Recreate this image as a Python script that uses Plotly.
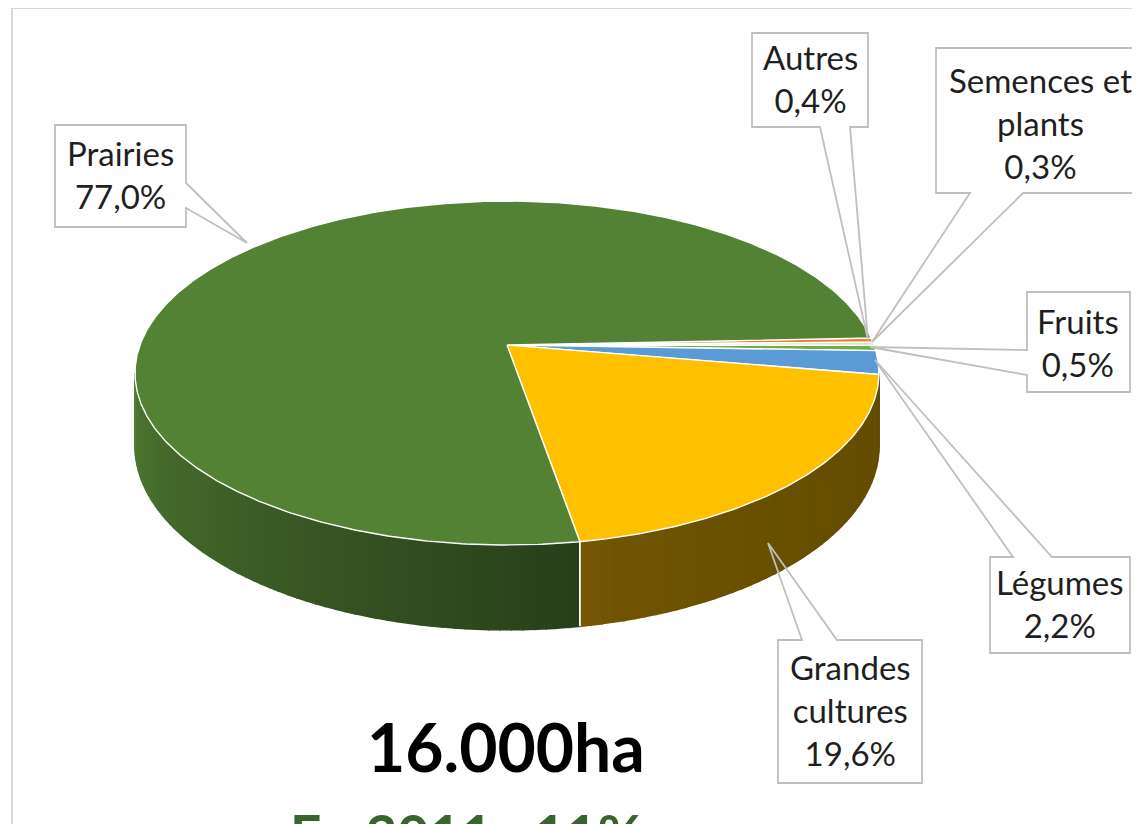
import numpy as np
import plotly.graph_objects as go

# ---------------- data (clockwise order, starting just above 3 o'clock) -------------
categories = ["Autres", "Semences et plants", "Fruits", "Légumes", "Grandes cultures", "Prairies"]
values = [0.4, 0.3, 0.5, 2.2, 19.6, 77.0]
label_names = ["Autres", "Semences et<br>plants", "Fruits", "Légumes", "Grandes<br>cultures", "Prairies"]
total_text = "16.000ha"
sub_text = "En 2011 : 11%"

# ---------------- style ----------------
top_colors = ["#ED7D31", "#C5E0B4", "#70AD47", "#5B9BD5", "#FFC000", "#548235"]
side_grad = {
    "Légumes": ((46, 90, 138), (46, 90, 138)),
    "Grandes cultures": ((122, 90, 4), (98, 76, 0)),
    "Prairies": ((78, 120, 50), (40, 63, 26)),
}
FONT = "Lato"
PAGE_OFF = 8                 # default body margin of the html page
W, H = 1140 - PAGE_OFF, 824 - PAGE_OFF

# 3D pie projection parameters (pixel space of the final picture)
CX, CY = 507, 345      # pie centre on screen
A, B, K, D = 367, 167.4, 0.163, 71
START = 87.6           # angle (deg, clockwise from back) where first slice starts
VIS0, VIS1 = 99.4, 260.6  # visible range of the side wall


def proj(phi, depth=0.0):
    u = np.sin(np.radians(phi))
    v = np.cos(np.radians(phi))
    s = 1.0 / (1.0 + K * v)
    return CX + A * u * s, CY - B * v * s + depth * D * s


fig = go.Figure()

# slice angle bounds from data
tot = sum(values)
bounds = []
a = START
for val in values:
    span = 360.0 * val / tot
    bounds.append((a, a + span))
    a += span

# ---------------- side walls ----------------
for name, (a0, a1) in zip(categories, bounds):
    if name not in side_grad:
        continue
    for off in (0, -360):
        s0, s1 = max(a0 + off, VIS0), min(a1 + off, VIS1)
        if s1 <= s0:
            continue
        c_left, c_right = side_grad[name]
        ph = np.linspace(s0, s1, 80)
        xt, yt = proj(ph)
        xb, yb = proj(ph[::-1], 1.0)
        base = "rgb(%d,%d,%d)" % tuple((c_left[j] + c_right[j]) // 2 for j in range(3))
        fig.add_trace(go.Scatter(x=np.concatenate([xt, xb, xt[:1]]),
                                 y=np.concatenate([yt, yb, yt[:1]]),
                                 mode="lines", fill="toself", fillcolor=base,
                                 line=dict(color=base, width=0),
                                 hoverinfo="skip", showlegend=False))
        n = max(2, int((s1 - s0) / 1.5) + 1)
        edges = np.linspace(s0, s1, n)
        for i in range(n - 1):
            p0, p1 = edges[i], edges[i + 1]
            t = (s1 - 0.5 * (p0 + p1)) / (s1 - s0)
            if name == "Grandes cultures":
                t = t ** 0.35
            col = tuple(int(round(c_left[j] + (c_right[j] - c_left[j]) * t)) for j in range(3))
            col = "rgb(%d,%d,%d)" % col
            ph = np.linspace(p0, p1, 3)
            xt, yt = proj(ph)
            xb, yb = proj(ph[::-1], 1.0)
            fig.add_trace(go.Scatter(x=np.concatenate([xt, xb, xt[:1]]),
                                     y=np.concatenate([yt, yb, yt[:1]]),
                                     mode="lines", fill="toself",
                                     fillcolor=col, line=dict(color=col, width=1.6),
                                     hoverinfo="skip", showlegend=False))

# seam between Prairies and Grandes cultures side walls
seam = bounds[categories.index("Grandes cultures")][1]
xs0, ys0 = proj(seam)
xs1, ys1 = proj(seam, 1.0)
fig.add_trace(go.Scatter(x=[xs0, xs1], y=[ys0, ys1], mode="lines",
                         line=dict(color="white", width=1.8),
                         hoverinfo="skip", showlegend=False))

# ---------------- top faces ----------------
for name, (a0, a1), col in zip(categories, bounds, top_colors):
    n = max(4, int((a1 - a0) / 0.5) + 2)
    ph = np.linspace(a0, a1, n)
    xa, ya = proj(ph)
    xs = np.concatenate([[CX], xa, [CX]])
    ys = np.concatenate([[CY], ya, [CY]])
    fig.add_trace(go.Scatter(x=xs, y=ys, mode="lines", fill="toself",
                             fillcolor=col, line=dict(color="white", width=1.4),
                             hoverinfo="skip", showlegend=False, name=name))

# ---------------- callouts ----------------
callouts = {
    "Prairies": ((55, 125, 186, 227), "right", 183, 208, (247, 243), (120, 176)),
    "Autres": ((752, 33, 868, 127), "bottom", 820, 850, (868, 340), (810, 80)),
    "Semences et plants": ((936, 48, 1146, 193), "bottom", 970, 1023, (872, 342), (1040, 125)),
    "Fruits": ((1027, 292, 1130, 392), "left", 350, 375, (870, 347), (1078, 344)),
    "Légumes": ((990, 557, 1130, 653), "top", 1013, 1052, (875, 360), (1060, 605)),
    "Grandes cultures": ((778, 640, 922, 783), "top", 802, 837, (768, 543), (850, 712)),
}

shapes = []
annotations = []
for name, lab, val in zip(categories, label_names, values):
    (x0, y0, x1, y1), side, w0, w1, (tx, ty), (lx, ly) = callouts[name]
    if side == "top":
        pts = [(x0, y0), (w0, y0), (tx, ty), (w1, y0), (x1, y0), (x1, y1), (x0, y1)]
    elif side == "right":
        pts = [(x0, y0), (x1, y0), (x1, w0), (tx, ty), (x1, w1), (x1, y1), (x0, y1)]
    elif side == "bottom":
        pts = [(x0, y0), (x1, y0), (x1, y1), (w1, y1), (tx, ty), (w0, y1), (x0, y1)]
    else:
        pts = [(x0, y0), (x1, y0), (x1, y1), (x0, y1), (x0, w1), (tx, ty), (x0, w0)]
    path = "M " + " L ".join("%g,%g" % p for p in pts) + " Z"
    shapes.append(dict(type="path", path=path, xref="x", yref="y",
                       line=dict(color="#BFBFBF", width=1.8),
                       fillcolor="rgba(0,0,0,0)", layer="above"))
    pct = ("%.1f" % val).replace(".", ",") + "%"
    annotations.append(dict(x=lx, y=ly - 2, xref="x", yref="y", showarrow=False,
                            text=lab + "<br>" + pct, align="center",
                            xanchor="center", yanchor="middle",
                            font=dict(family=FONT, size=33, color="#1F1F1F")))

# chart area border
shapes.append(dict(type="rect", xref="x", yref="y", x0=12, y0=8, x1=1160, y1=850,
                   line=dict(color="#D9D9D9", width=2), fillcolor="rgba(0,0,0,0)",
                   layer="below"))

annotations.append(dict(x=506, y=746, xref="x", yref="y", showarrow=False,
                        text="<b>" + total_text + "</b>", xanchor="center", yanchor="middle",
                        font=dict(family=FONT, size=66, color="#000000")))
# subtitle, partly below the bottom edge (as in the reference) -> paper reference
sub_y_px = 834
annotations.append(dict(x=466, y=(824 - sub_y_px) / (824 - PAGE_OFF), xref="x", yref="paper",
                        showarrow=False,
                        text="<b>" + sub_text + "</b>", xanchor="center", yanchor="middle",
                        font=dict(family=FONT, size=55, color="#38662A")))

fig.update_layout(
    width=W, height=H, margin=dict(l=0, r=0, t=0, b=0),
    paper_bgcolor="white", plot_bgcolor="white",
    xaxis=dict(range=[PAGE_OFF, 1140], visible=False, fixedrange=True),
    yaxis=dict(range=[824, PAGE_OFF], visible=False, fixedrange=True),
    shapes=shapes, annotations=annotations, showlegend=False,
)

fig.write_html("out.html")
